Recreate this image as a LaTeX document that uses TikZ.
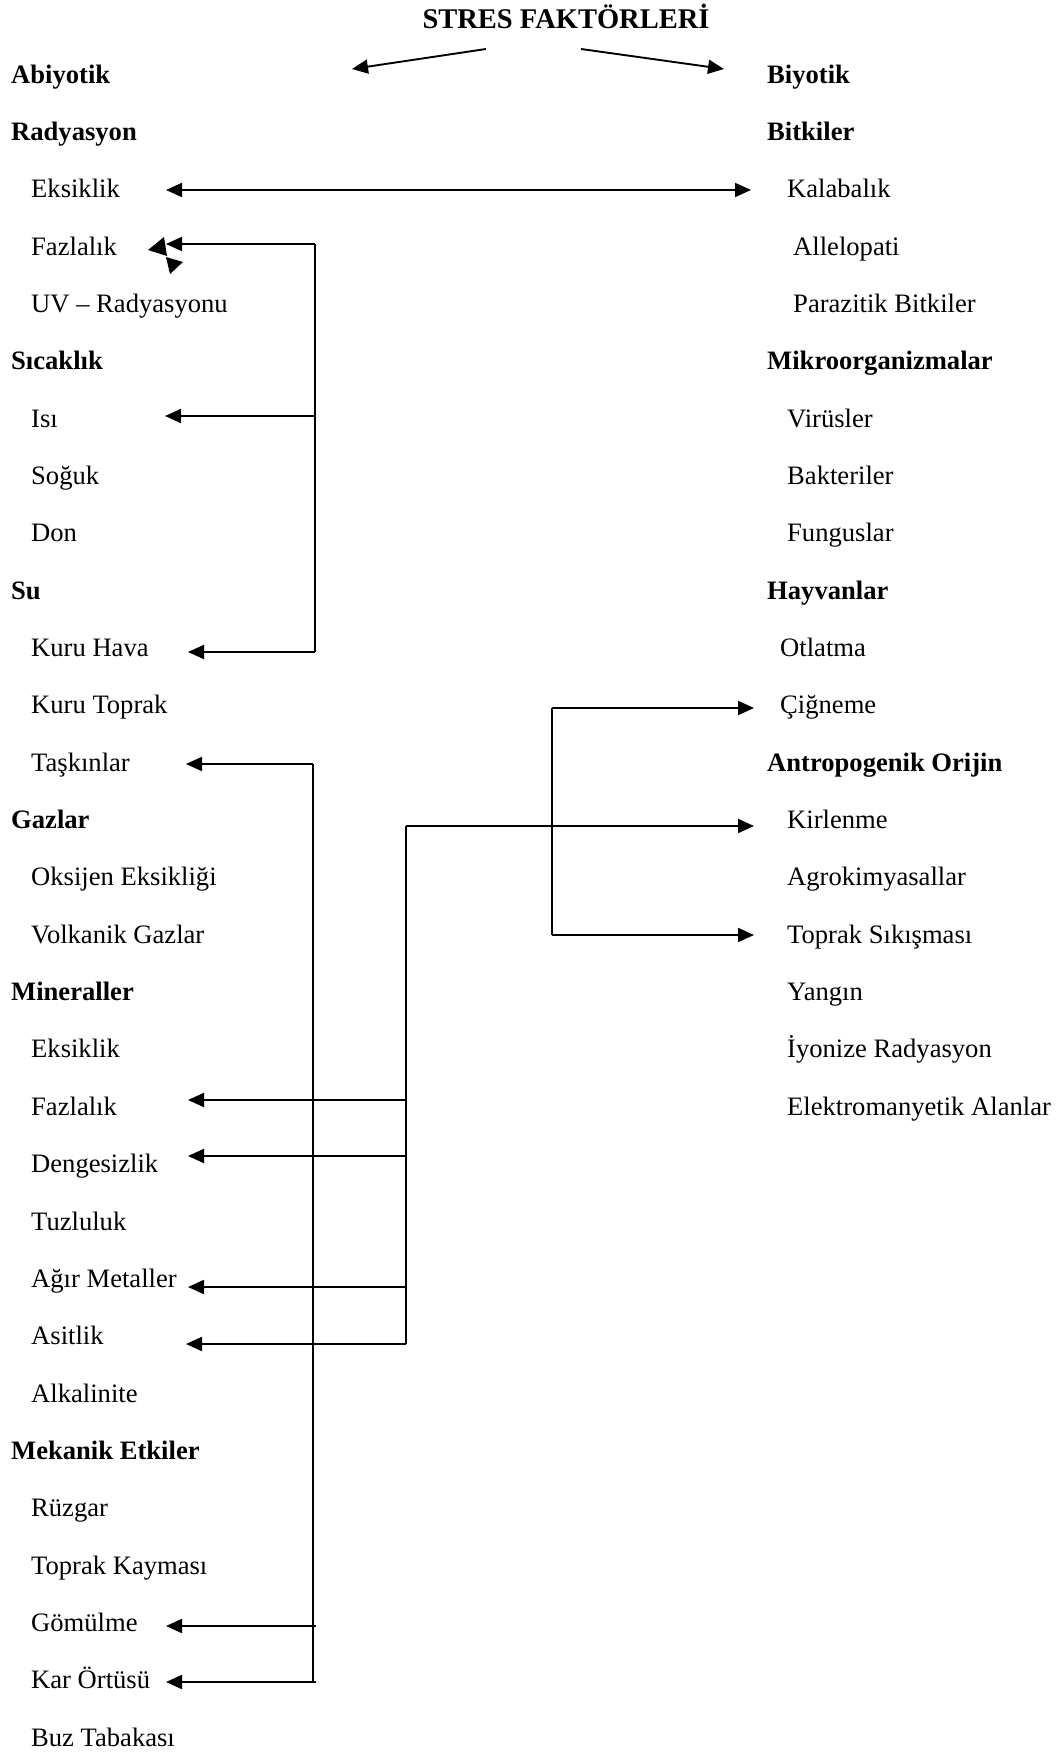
\documentclass[tikz,border=0pt]{standalone}
\usepackage{fontspec}
\setmainfont{Liberation Serif}
\usetikzlibrary{arrows.meta}
\begin{document}
\begin{tikzpicture}[x=1pt,y=-1pt,
  txt/.style={anchor=base west,inner sep=0pt,font=\fontsize{26.6}{30}\selectfont},
  hd/.style={txt,font=\fontsize{26.6}{30}\selectfont\bfseries},
  conn/.style={line width=1.9pt},
  arr/.style={conn,-{Triangle[length=16pt,width=14pt]}},
  darr/.style={conn,{Triangle[length=16pt,width=14pt]}-{Triangle[length=16pt,width=14pt]}}]
\useasboundingbox (0,0) rectangle (1056,1753);
% title
\node[anchor=base,inner sep=0pt,font=\fontsize{28.5}{32}\selectfont\bfseries] (title) at (566,29) {STRES FAKTÖRLERİ};
% left column
\def\L{11}\def\S{31}
\node[hd]  (abi)  at (\L,83) {Abiyotik};
\node[hd]  (rad)  at (\L,140.35) {Radyasyon};
\node[txt] (eks)  at (\S,197.7) {Eksiklik};
\node[txt] (faz)  at (\S,255.05) {Fazlalık};
\node[txt] (uv)   at (\S,312.4) {UV – Radyasyonu};
\node[hd]  (sic)  at (\L,369.75) {Sıcaklık};
\node[txt] (isi)  at (\S,427.1) {Isı};
\node[txt] (sog)  at (\S,484.45) {Soğuk};
\node[txt] (don)  at (\S,541.8) {Don};
\node[hd]  (su)   at (\L,599.15) {Su};
\node[txt] (kh)   at (\S,656.5) {Kuru Hava};
\node[txt] (kt)   at (\S,713.85) {Kuru Toprak};
\node[txt] (tas)  at (\S,771.2) {Taşkınlar};
\node[hd]  (gaz)  at (\L,828.55) {Gazlar};
\node[txt] (oks)  at (\S,885.9) {Oksijen Eksikliği};
\node[txt] (vol)  at (\S,943.25) {Volkanik Gazlar};
\node[hd]  (min)  at (\L,1000.6) {Mineraller};
\node[txt] (meks) at (\S,1057.95) {Eksiklik};
\node[txt] (mfaz) at (\S,1115.3) {Fazlalık};
\node[txt] (den)  at (\S,1172.65) {Dengesizlik};
\node[txt] (tuz)  at (\S,1230) {Tuzluluk};
\node[txt] (agir) at (\S,1287.35) {Ağır Metaller};
\node[txt] (asit) at (\S,1344.7) {Asitlik};
\node[txt] (alk)  at (\S,1402.05) {Alkalinite};
\node[hd]  (mek)  at (\L,1459.4) {Mekanik Etkiler};
\node[txt] (ruz)  at (\S,1516.75) {Rüzgar};
\node[txt] (tk)   at (\S,1574.1) {Toprak Kayması};
\node[txt] (gom)  at (\S,1631.45) {Gömülme};
\node[txt] (kar)  at (\S,1688.8) {Kar Örtüsü};
\node[txt] (buz)  at (\S,1746.15) {Buz Tabakası};
% right column
\def\R{767}
\node[hd]  (biy)  at (\R,83) {Biyotik};
\node[hd]  (bit)  at (\R,140.35) {Bitkiler};
\node[txt] (kal)  at (787,197.7) {Kalabalık};
\node[txt] (all)  at (793,255.05) {Allelopati};
\node[txt] (par)  at (793,312.4) {Parazitik Bitkiler};
\node[hd]  (mik)  at (\R,369.75) {Mikroorganizmalar};
\node[txt] (vir)  at (787,427.1) {Virüsler};
\node[txt] (bak)  at (787,484.45) {Bakteriler};
\node[txt] (fun)  at (787,541.8) {Funguslar};
\node[hd]  (hay)  at (\R,599.15) {Hayvanlar};
\node[txt] (otl)  at (780,656.5) {Otlatma};
\node[txt] (cig)  at (780,713.85) {Çiğneme};
\node[hd]  (ant)  at (\R,771.2) {Antropogenik Orijin};
\node[txt] (kir)  at (787,828.55) {Kirlenme};
\node[txt] (agr)  at (787,885.9) {Agrokimyasallar};
\node[txt] (tsk)  at (787,943.25) {Toprak Sıkışması};
\node[txt] (yan)  at (787,1000.6) {Yangın};
\node[txt] (iyo)  at (787,1057.95) {İyonize Radyasyon};
\node[txt] (ele)  at (787,1115.3) {Elektromanyetik Alanlar};
% coordinates
\coordinate (tl) at (486,49);  \coordinate (tlend) at (352,69);
\coordinate (tr) at (581,49);  \coordinate (trend) at (724,69);
\coordinate (eksT) at (166,190); \coordinate (kalT) at (751,190);
\coordinate (fazT) at (166,244); \coordinate (fazC) at (315,244);
\coordinate (isiT) at (165,416); \coordinate (isiC) at (315,416);
\coordinate (khT) at (188,652);  \coordinate (khC) at (315,652);
\coordinate (tasT) at (186,764); \coordinate (tasC) at (313,764);
\coordinate (gomT) at (166,1626); \coordinate (gomC) at (316,1626);
\coordinate (karT) at (166,1682); \coordinate (karC) at (316,1682);
\coordinate (vA) at (313,1682);
\coordinate (mfT) at (188,1100); \coordinate (mfC) at (406,1100);
\coordinate (deT) at (188,1156); \coordinate (deC) at (406,1156);
\coordinate (agT) at (188,1287); \coordinate (agC) at (406,1287);
\coordinate (asT) at (186,1344); \coordinate (asC) at (406,1344);
\coordinate (kirC) at (406,826); \coordinate (kirT) at (754,826);
\coordinate (cigC) at (552,708); \coordinate (cigT) at (754,708);
\coordinate (tskC) at (552,935); \coordinate (tskT) at (754,935);
% connectors
\draw[arr] (tl) -- (tlend);
\draw[arr] (tr) -- (trend);
\draw[darr] (eksT) -- (kalT);
\draw[conn] (fazC) -- (khC);
\draw[arr] (fazC) -- (fazT);
\draw[arr] (isiC) -- (isiT);
\draw[arr] (khC) -- (khT);
% bow-tie artifact near Fazlalik
\fill (148,250) -- (164,237) -- (167,256) -- cycle;
\fill (166,257) -- (183,262) -- (170,274) -- cycle;
\draw[conn] (tasC) -- (vA);
\draw[arr] (tasC) -- (tasT);
\draw[arr] (gomC) -- (gomT);
\draw[arr] (karC) -- (karT);
\draw[conn] (kirC) -- (asC);
\draw[arr] (kirC) -- (kirT);
\draw[arr] (mfC) -- (mfT);
\draw[arr] (deC) -- (deT);
\draw[arr] (agC) -- (agT);
\draw[arr] (asC) -- (asT);
\draw[conn] (cigC) -- (tskC);
\draw[arr] (cigC) -- (cigT);
\draw[arr] (tskC) -- (tskT);
\end{tikzpicture}
\end{document}
